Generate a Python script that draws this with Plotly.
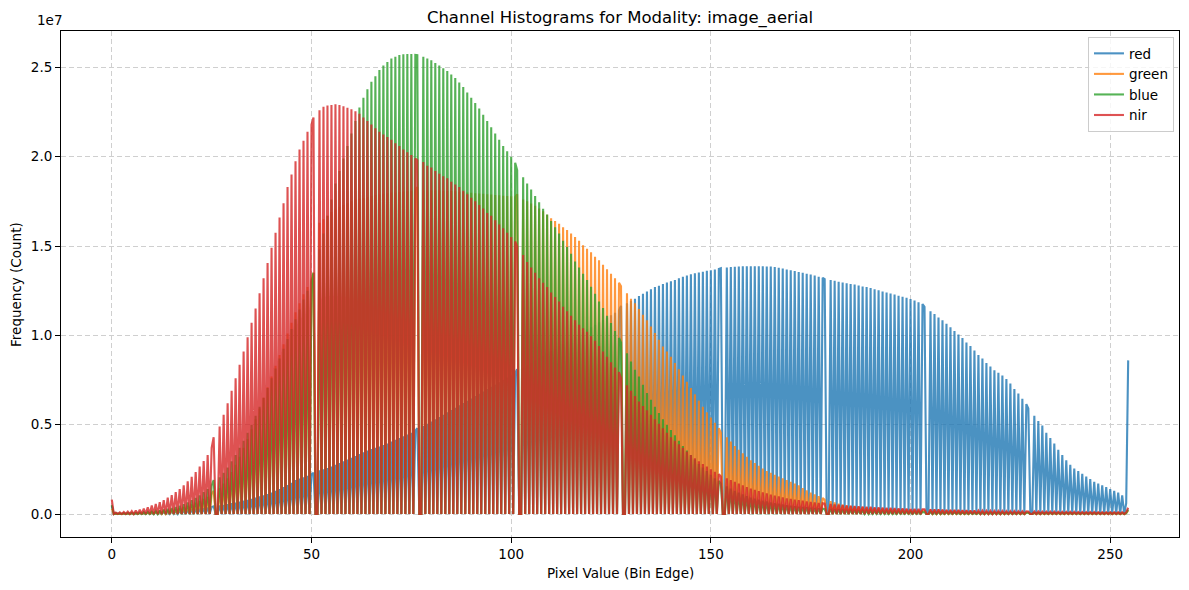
import numpy as np
import plotly.graph_objects as go

# ---------------- data (counts in millions, one value per pixel value 0..255) -------------
channel_names = ["red", "green", "blue", "nir"]
channel_colors = ["#1f77b4", "#ff7f0e", "#2ca02c", "#d62728"]

red_counts_m = [
    0.45,
    0.02, 0.02, 0.03, 0.03, 0.04, 0.05, 0.06, 0.07, 0.08, 0.09,
    0.10, 0.11, 0.12, 0.14, 0.15, 0.17, 0.19, 0.21, 0.23, 0.25,
    0.28, 0.30, 0.33, 0.36, 0.39, 0.43, 0.47, 0.51, 0.55, 0.60,
    0.64, 0.69, 0.74, 0.79, 0.85, 0.91, 0.98, 1.05, 1.12, 1.20,
    1.30, 1.40, 1.50, 1.62, 1.75, 1.90, 1.98, 2.06, 2.14, 2.22,
    2.30, 2.45, 2.50, 2.57, 2.65, 2.75, 2.85, 2.95, 3.05, 3.15,
    3.25, 3.35, 3.45, 3.55, 3.63, 3.70, 3.77, 3.86, 3.95, 4.05,
    4.15, 4.25, 4.35, 4.45, 4.55, 4.65, 4.80, 4.92, 5.05, 5.18,
    5.30, 5.43, 5.56, 5.69, 5.82, 5.95, 6.08, 6.21, 6.34, 6.47,
    6.60, 6.73, 6.86, 6.99, 7.12, 7.25, 7.38, 7.51, 7.64, 7.77,
    7.90, 8.10, 8.20, 8.33, 8.46, 8.60, 8.73, 8.86, 9.00, 9.13,
    9.26, 9.40, 9.53, 9.66, 9.80, 9.93, 10.06, 10.20, 10.33, 10.46,
    10.60, 10.73, 10.86, 11.00, 11.13, 11.26, 11.40, 11.65, 11.80, 11.93,
    12.05, 12.20, 12.33, 12.46, 12.58, 12.70, 12.78, 12.88, 12.96, 13.03,
    13.10, 13.20, 13.28, 13.35, 13.42, 13.48, 13.52, 13.56, 13.62, 13.65,
    13.68, 13.72, 13.76, 13.80, 13.82, 13.84, 13.86, 13.87, 13.87, 13.87,
    13.87, 13.87, 13.87, 13.86, 13.85, 13.82, 13.78, 13.74, 13.69, 13.64,
    13.60, 13.55, 13.50, 13.45, 13.40, 13.35, 13.28, 13.22, 13.15, 13.10,
    13.05, 13.00, 12.96, 12.92, 12.88, 12.84, 12.79, 12.74, 12.70, 12.65,
    12.58, 12.52, 12.46, 12.40, 12.34, 12.28, 12.22, 12.16, 12.10, 12.03,
    11.95, 11.85, 11.75, 11.60, 11.35, 11.20, 11.00, 10.85, 10.65, 10.45,
    10.25, 10.05, 9.85, 9.60, 9.40, 9.15, 8.90, 8.70, 8.45, 8.25,
    8.05, 7.90, 7.75, 7.55, 7.30, 7.00, 6.75, 6.45, 6.15, 5.90,
    5.50, 5.20, 4.95, 4.55, 4.25, 3.95, 3.60, 3.30, 3.00, 2.75,
    2.55, 2.40, 2.25, 2.10, 1.95, 1.80, 1.70, 1.60, 1.50, 1.40,
    1.30, 1.20, 1.05, 0.60, 8.60,
]

green_counts_m = [
    0.30,
    0.02, 0.02, 0.03, 0.03, 0.04, 0.05, 0.06, 0.07, 0.08, 0.10,
    0.12, 0.14, 0.17, 0.20, 0.24, 0.28, 0.33, 0.39, 0.46, 0.54,
    0.63, 0.73, 0.84, 0.96, 1.10, 1.30, 1.45, 1.70, 2.00, 2.35,
    2.75, 3.20, 3.70, 4.20, 4.75, 5.30, 5.90, 6.50, 7.10, 7.70,
    8.30, 8.90, 9.50, 10.10, 10.70, 11.30, 11.80, 12.30, 12.70, 13.10,
    13.50, 16.30, 16.50, 16.70, 16.90, 17.05, 17.20, 17.30, 17.40, 17.50,
    17.60, 17.65, 17.70, 17.75, 17.80, 17.85, 17.90, 17.92, 17.95, 18.00,
    18.00, 18.02, 18.05, 18.07, 18.10, 18.10, 18.30, 18.12, 18.12, 18.12,
    18.12, 18.12, 18.10, 18.10, 18.08, 18.06, 18.04, 18.02, 18.00, 17.98,
    17.96, 17.94, 17.92, 17.90, 17.88, 17.86, 17.84, 17.82, 17.80, 17.78,
    17.74, 17.90, 17.60, 17.50, 17.38, 17.25, 17.10, 16.95, 16.75, 16.55,
    16.40, 16.25, 16.05, 15.90, 15.70, 15.50, 15.30, 15.05, 14.85, 14.65,
    14.40, 14.20, 13.95, 13.70, 13.45, 13.20, 12.95, 12.75, 12.35, 12.05,
    11.80, 11.47, 11.15, 10.84, 10.50, 10.13, 9.75, 9.38, 9.10, 8.80,
    8.45, 8.10, 7.75, 7.40, 7.05, 6.70, 6.35, 6.00, 5.70, 5.40,
    5.10, 4.80, 4.55, 4.30, 4.05, 3.80, 3.60, 3.40, 3.20, 3.00,
    2.85, 2.70, 2.55, 2.40, 2.30, 2.20, 2.10, 2.00, 1.90, 1.80,
    1.70, 1.60, 1.45, 1.32, 1.20, 1.10, 1.00, 0.90, 0.80, 0.72,
    0.65, 0.58, 0.52, 0.48, 0.45, 0.42, 0.40, 0.38, 0.36, 0.34,
    0.32, 0.31, 0.30, 0.29, 0.28, 0.27, 0.26, 0.25, 0.24, 0.23,
    0.22, 0.21, 0.20, 0.20, 0.19, 0.18, 0.18, 0.17, 0.16, 0.16,
    0.15, 0.15, 0.14, 0.14, 0.13, 0.13, 0.12, 0.12, 0.11, 0.11,
    0.10, 0.10, 0.10, 0.09, 0.09, 0.09, 0.08, 0.08, 0.08, 0.08,
    0.07, 0.07, 0.07, 0.07, 0.07, 0.07, 0.07, 0.07, 0.07, 0.07,
    0.06, 0.06, 0.06, 0.06, 0.06, 0.06, 0.06, 0.06, 0.06, 0.06,
    0.06, 0.06, 0.05, 0.05, 0.20,
]

blue_counts_m = [
    0.50,
    0.03, 0.03, 0.04, 0.05, 0.06, 0.07, 0.08, 0.10, 0.12, 0.14,
    0.17, 0.20, 0.24, 0.28, 0.33, 0.39, 0.46, 0.55, 0.65, 0.77,
    0.90, 1.05, 1.22, 1.40, 1.60, 1.90, 2.05, 2.30, 2.60, 2.95,
    3.30, 3.70, 4.10, 4.55, 5.00, 5.50, 6.00, 6.50, 7.05, 7.60,
    8.15, 8.70, 9.25, 9.80, 10.35, 10.90, 11.45, 12.00, 12.50, 13.00,
    13.50, 14.80, 15.70, 16.70, 17.60, 18.50, 19.20, 19.90, 20.60, 21.30,
    22.00, 22.75, 23.30, 23.77, 24.20, 24.50, 24.85, 25.10, 25.30, 25.50,
    25.60, 25.70, 25.73, 25.75, 25.75, 25.70, 25.68, 25.60, 25.50, 25.40,
    25.25, 25.10, 24.95, 24.80, 24.60, 24.40, 24.15, 23.90, 23.60, 23.30,
    23.00, 22.70, 22.35, 22.00, 21.65, 21.30, 20.95, 20.60, 20.30, 20.00,
    19.66, 19.25, 18.85, 18.50, 18.16, 17.80, 17.45, 17.08, 16.76, 16.40,
    16.05, 15.70, 15.30, 14.95, 14.57, 14.14, 13.80, 13.45, 13.10, 12.72,
    12.33, 11.90, 11.53, 11.10, 10.69, 10.25, 9.85, 9.60, 9.00, 8.54,
    8.07, 7.70, 7.23, 6.77, 6.40, 6.00, 5.65, 5.30, 5.00, 4.70,
    4.40, 4.10, 3.80, 3.55, 3.30, 3.05, 2.80, 2.60, 2.40, 2.20,
    2.00, 1.85, 1.70, 1.55, 1.42, 1.30, 1.20, 1.10, 1.00, 0.92,
    0.86, 0.80, 0.75, 0.70, 0.65, 0.61, 0.57, 0.53, 0.49, 0.46,
    0.43, 0.41, 0.39, 0.37, 0.35, 0.33, 0.31, 0.30, 0.28, 0.27,
    0.26, 0.25, 0.24, 0.23, 0.22, 0.21, 0.20, 0.19, 0.18, 0.17,
    0.16, 0.16, 0.15, 0.15, 0.14, 0.14, 0.13, 0.13, 0.12, 0.12,
    0.11, 0.11, 0.11, 0.10, 0.10, 0.10, 0.10, 0.09, 0.09, 0.09,
    0.09, 0.08, 0.08, 0.08, 0.08, 0.08, 0.07, 0.07, 0.07, 0.07,
    0.07, 0.07, 0.07, 0.07, 0.07, 0.07, 0.07, 0.07, 0.07, 0.07,
    0.06, 0.06, 0.06, 0.06, 0.06, 0.06, 0.06, 0.06, 0.06, 0.06,
    0.05, 0.05, 0.05, 0.05, 0.05, 0.05, 0.05, 0.05, 0.05, 0.05,
    0.05, 0.05, 0.05, 0.05, 0.25,
]

nir_counts_m = [
    0.80,
    0.08, 0.09, 0.11, 0.13, 0.16, 0.20, 0.24, 0.30, 0.38, 0.47,
    0.56, 0.66, 0.78, 0.91, 1.06, 1.22, 1.40, 1.60, 1.83, 2.08,
    2.35, 2.65, 2.97, 3.30, 3.70, 4.30, 4.90, 5.55, 6.20, 6.90,
    7.60, 8.35, 9.10, 9.90, 10.70, 11.50, 12.35, 13.20, 14.05, 14.90,
    15.75, 16.60, 17.40, 18.30, 19.00, 19.75, 20.40, 20.90, 21.40, 21.80,
    22.20, 22.60, 22.80, 22.87, 22.90, 22.93, 22.90, 22.83, 22.74, 22.65,
    22.55, 22.40, 22.20, 22.00, 21.80, 21.60, 21.40, 21.25, 21.10, 20.95,
    20.75, 20.60, 20.40, 20.25, 20.10, 19.90, 19.80, 19.70, 19.50, 19.40,
    19.20, 19.05, 18.90, 18.80, 18.60, 18.45, 18.30, 18.10, 17.90, 17.70,
    17.50, 17.30, 17.10, 16.85, 16.70, 16.45, 16.20, 16.00, 15.75, 15.50,
    15.26, 14.98, 14.50, 14.10, 13.80, 13.50, 13.20, 12.95, 12.70, 12.40,
    12.15, 11.90, 11.60, 11.35, 11.10, 10.85, 10.60, 10.40, 10.20, 9.95,
    9.70, 9.40, 9.10, 8.80, 8.50, 8.20, 7.95, 7.60, 7.20, 6.90,
    6.60, 6.30, 6.05, 5.80, 5.55, 5.30, 5.05, 4.80, 4.55, 4.30,
    4.10, 3.90, 3.70, 3.50, 3.30, 3.12, 2.95, 2.80, 2.65, 2.50,
    2.36, 2.23, 2.10, 2.00, 1.90, 1.80, 1.70, 1.60, 1.50, 1.42,
    1.35, 1.28, 1.21, 1.15, 1.09, 1.03, 0.98, 0.93, 0.88, 0.84,
    0.80, 0.77, 0.74, 0.71, 0.68, 0.65, 0.62, 0.60, 0.58, 0.56,
    0.54, 0.52, 0.50, 0.48, 0.46, 0.45, 0.44, 0.42, 0.41, 0.40,
    0.38, 0.37, 0.36, 0.35, 0.34, 0.33, 0.32, 0.31, 0.30, 0.29,
    0.28, 0.28, 0.27, 0.27, 0.26, 0.25, 0.25, 0.24, 0.23, 0.23,
    0.22, 0.22, 0.21, 0.21, 0.20, 0.20, 0.19, 0.19, 0.18, 0.18,
    0.17, 0.17, 0.17, 0.16, 0.16, 0.16, 0.15, 0.15, 0.15, 0.14,
    0.14, 0.14, 0.13, 0.13, 0.13, 0.13, 0.12, 0.12, 0.12, 0.12,
    0.12, 0.11, 0.11, 0.11, 0.11, 0.11, 0.10, 0.10, 0.10, 0.10,
    0.10, 0.10, 0.10, 0.10, 0.35,
]

# pixel values whose histogram bin falls half a bin to the left (bin-edge rounding)
shifted_values = [26, 51, 77, 102, 128, 153, 179, 204, 230, 255]

n_bins = 510          # histogram bins of width 0.5 over 0..255
bin_width = 0.5
tick_vals = [0, 5e6, 10e6, 15e6, 20e6, 25e6]
tick_text = ["0.0", "0.5", "1.0", "1.5", "2.0", "2.5"]
x_ticks = [0, 50, 100, 150, 200, 250]

all_counts = [red_counts_m, green_counts_m, blue_counts_m, nir_counts_m]
for c in all_counts:
    assert len(c) == 256, len(c)

bin_edges = np.arange(n_bins) * bin_width


def histogram_from_values(counts_m):
    y = np.zeros(n_bins)
    for v, cnt in enumerate(counts_m):
        idx = 2 * v - (1 if v in shifted_values else 0)
        y[idx] = cnt * 1e6
    return y


fig = go.Figure()
for name, color, counts in zip(channel_names, channel_colors, all_counts):
    fig.add_trace(go.Scatter(
        x=bin_edges, y=histogram_from_values(counts), mode="lines", name=name,
        line=dict(color=color, width=2.1), opacity=0.8, hoverinfo="skip",
    ))

FONT = "DejaVu Sans"
ymax = max(max(c) for c in all_counts) * 1e6
xmax = bin_edges[-1]
fig.update_layout(
    width=1189, height=590,
    margin=dict(l=61, r=10, t=31, b=53),
    paper_bgcolor="white", plot_bgcolor="white",
    font=dict(family=FONT, size=13, color="black"),
    title=dict(text="Channel Histograms for Modality: image_aerial", x=0.5, xref="paper",
               xanchor="center", y=1 - 17 / 590, yanchor="middle",
               font=dict(size=16.5, family=FONT, color="black")),
    showlegend=True,
    legend=dict(x=0.9955, xanchor="right", y=0.988, yanchor="top",
                bgcolor="rgba(255,255,255,0.8)", bordercolor="#cccccc", borderwidth=1,
                font=dict(size=13.5, family=FONT), itemwidth=30, tracegroupgap=2),
)
fig.update_xaxes(
    range=[-0.05 * xmax, 1.05 * xmax], tickvals=x_ticks, ticktext=[str(t) for t in x_ticks],
    showline=True, mirror=True, linecolor="black", linewidth=1,
    ticks="outside", ticklen=5, tickcolor="black", tickwidth=1,
    showgrid=True, gridcolor="#cfcfcf", gridwidth=1, griddash="5px,3px", zeroline=False,
    tickfont=dict(size=13.5, family=FONT),
)
fig.update_yaxes(
    range=[-0.05 * ymax, 1.05 * ymax], tickvals=tick_vals, ticktext=tick_text,
    showline=True, mirror=True, linecolor="black", linewidth=1,
    ticks="outside", ticklen=5, tickcolor="black", tickwidth=1,
    showgrid=True, gridcolor="#cfcfcf", gridwidth=1, griddash="5px,3px", zeroline=False,
    tickfont=dict(size=13.5, family=FONT),
)
fig.add_annotation(text="Pixel Value (Bin Edge)", xref="paper", yref="paper", x=0.5, y=-0.071,
                   xanchor="center", yanchor="middle", showarrow=False, font=dict(size=13.5, family=FONT))
fig.add_annotation(text="Frequency (Count)", xref="paper", yref="paper", x=-0.0403, y=0.5,
                   xanchor="center", yanchor="middle", textangle=-90, showarrow=False,
                   font=dict(size=13.5, family=FONT))
fig.add_annotation(text="1e7", xref="paper", yref="paper", x=-0.0235, y=1.022,
                   xanchor="left", yanchor="middle", showarrow=False, font=dict(size=13.5, family=FONT))

fig.write_html("out.html", config={"displayModeBar": False})
